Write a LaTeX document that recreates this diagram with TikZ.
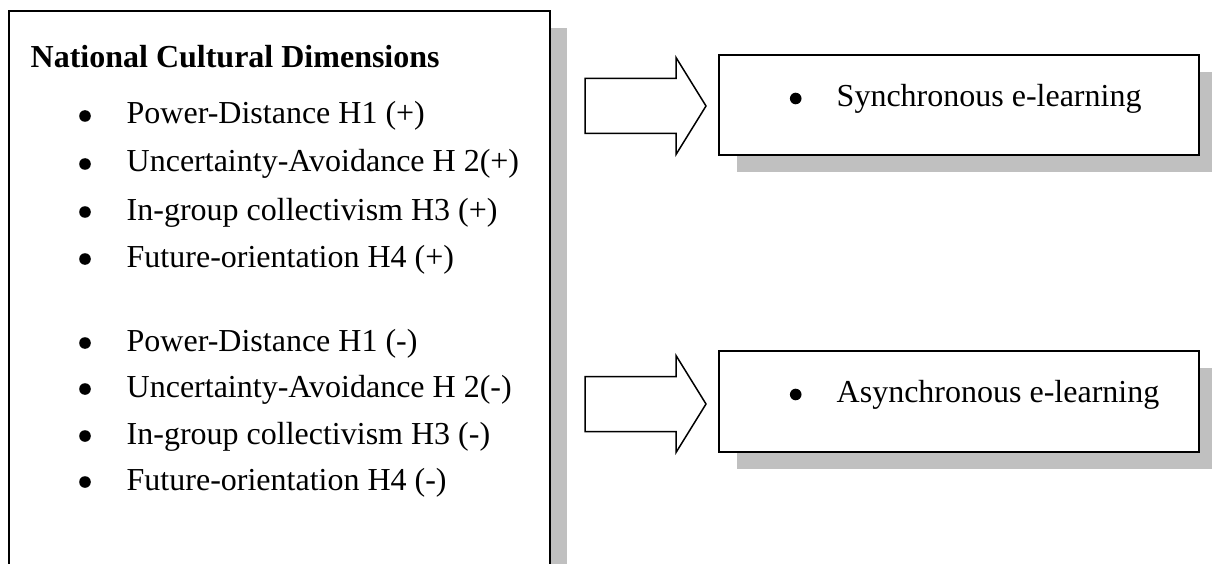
\documentclass[tikz,border=0pt]{standalone}
\usepackage{fontspec}
\setmainfont{Liberation Serif}
\usetikzlibrary{shadows}
\definecolor{shadowgray}{HTML}{C0C0C0}
\begin{document}
\begin{tikzpicture}[x=1pt,y=-1pt,
  every node/.style={inner sep=0pt,outer sep=0pt},
  txt/.style={font=\fontsize{32}{38}\selectfont},
  boldtxt/.style={font=\fontsize{32}{38}\selectfont\bfseries},
  item/.style={txt,anchor=base west},
  framebox/.style={rectangle,draw=black,line width=2pt,fill=white,
    drop shadow={shadow xshift=17.5pt,shadow yshift=-17pt,fill=shadowgray,opacity=1}},
  blockarrow/.style={draw=black,line width=1.5pt,fill=white,line join=miter},
  bul/.style={fill=black}]
\useasboundingbox (0,0) rectangle (1212,564);
\clip (0,0) rectangle (1212,564);

% left box
\node[framebox,anchor=north west,minimum width=540.2pt,minimum height=700pt] (dims) at (9.3,11) {};
\node[boldtxt,anchor=base west] (title) at (30.7,68) {National Cultural Dimensions};

\foreach \y/\t [count=\i] in {124/{Power-Distance H1 (+)},172/{Uncertainty-Avoidance H 2(+)},220/{In-group collectivism H3 (+)},267/{Future-orientation H4 (+)},351/{Power-Distance H1 (-)},397/{Uncertainty-Avoidance H 2(-)},444/{In-group collectivism H3 (-)},490/{Future-orientation H4 (-)}}{
  \fill[bul] (85,\y-8) circle (5.8);
  \node[item] (item\i) at (126.7,\y) {\t};
}

% right boxes
\node[framebox,minimum width=480pt,minimum height=100pt] (sync) at (959.2,105) {};
\fill[bul] (795.7,98.5) circle (5.8);
\node[item] (synctext) at (836.7,106.5) {Synchronous e-learning};

\node[framebox,minimum width=480pt,minimum height=101pt] (async) at (959.2,401.5) {};
\fill[bul] (795.7,394.5) circle (5.8);
\node[item] (asynctext) at (836.7,402.5) {Asynchronous e-learning};

% block arrows
\coordinate (a1) at (585,106);
\coordinate (a2) at (585,404);
\draw[blockarrow] (a1) ++(0,-27.5) -- ++(91,0) -- ++(0,-21) -- ++(30,48.5) -- ++(-30,48.5) -- ++(0,-21) -- ++(-91,0) -- cycle;
\draw[blockarrow] (a2) ++(0,-27.5) -- ++(91,0) -- ++(0,-21) -- ++(30,48.5) -- ++(-30,48.5) -- ++(0,-21) -- ++(-91,0) -- cycle;
\end{tikzpicture}
\end{document}
